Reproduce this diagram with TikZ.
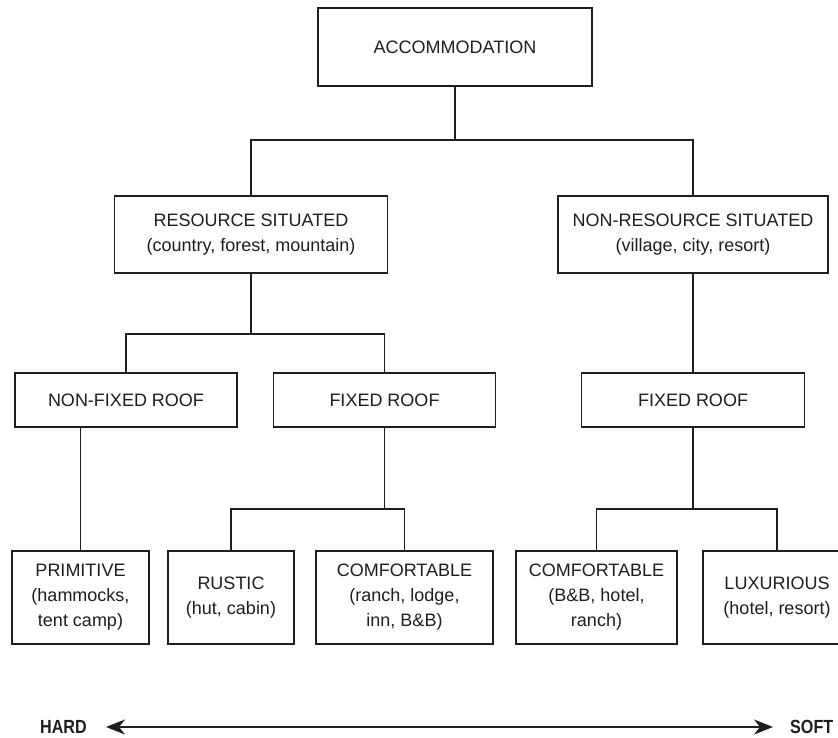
\documentclass[tikz,border=0pt]{standalone}
\usepackage{fontspec}
\setmainfont{Liberation Sans}
\usepackage{tikz}
\usetikzlibrary{arrows.meta,positioning,calc}
\definecolor{inkgray}{HTML}{1E1E1E}

\begin{document}
\begin{tikzpicture}[x=1pt,y=-1pt,
    catbox/.style={draw=inkgray,line width=1.6pt,inner sep=0pt,align=center,text=inkgray,
      font=\fontsize{18}{25}\selectfont},
    branch/.style={draw=inkgray,line width=1.3pt},
    scaleend/.style={font=\fontsize{19}{20}\selectfont\bfseries,text=inkgray,inner sep=0pt}]
    \useasboundingbox (0,0) rectangle (838,738);
    \clip (0,0) rectangle (838,738);
    % top level
    \node[catbox,minimum width=274pt,minimum height=78pt] (acc) at (455,47) {ACCOMMODATION};
    \node[catbox,minimum width=273pt,minimum height=77pt] (res) at (251,234.5) {RESOURCE SITUATED\\(country, forest, mountain)};
    \node[catbox,minimum width=270pt,minimum height=77pt] (nonres) at (693,234.5) {NON-RESOURCE SITUATED\\(village, city, resort)};
    \coordinate (accjoin) at (455,140);
    \draw[branch] (acc) -- (accjoin);
    \draw[branch] (accjoin) -| (res);
    \draw[branch] (accjoin) -| (nonres);
    % roof level
    \node[catbox,minimum width=222pt,minimum height=54pt] (nofix) at (126,400) {NON-FIXED ROOF};
    \node[catbox,minimum width=222pt,minimum height=54pt] (fixres) at (384.5,400) {FIXED ROOF};
    \node[catbox,minimum width=223pt,minimum height=54pt] (fixnon) at (693,400) {FIXED ROOF};
    \coordinate (resjoin) at (251,334);
    \draw[branch] (res) -- (resjoin);
    \draw[branch] (resjoin) -| (nofix);
    \draw[branch] (resjoin) -| (fixres);
    \draw[branch] (nonres) -- (fixnon);
    % bottom level
    \node[catbox,minimum width=137pt,minimum height=93pt] (prim) at (80.5,597.5) {PRIMITIVE\\(hammocks,\\tent camp)};
    \node[catbox,minimum width=126pt,minimum height=93pt] (rustic) at (231,597.5) {RUSTIC\\(hut, cabin)};
    \node[catbox,minimum width=177pt,minimum height=93pt] (comfres) at (404.5,597.5) {COMFORTABLE\\(ranch, lodge,\\inn, B\&B)};
    \node[catbox,minimum width=161pt,minimum height=93pt] (comfnon) at (596.5,597.5) {COMFORTABLE\\(B\&B, hotel,\\ranch)};
    \node[catbox,minimum width=148pt,minimum height=93pt] (lux) at (777,597.5) {LUXURIOUS\\(hotel, resort)};
    \draw[branch] (nofix.south -| prim.north) -- (prim);
    \coordinate (fixresjoin) at (384.5,509);
    \coordinate (fixnonjoin) at (693,509);
    \draw[branch] (fixres) -- (fixresjoin);
    \draw[branch] (fixresjoin) -| (rustic);
    \draw[branch] (fixresjoin) -| (comfres);
    \draw[branch] (fixnon) -- (fixnonjoin);
    \draw[branch] (fixnonjoin) -| (comfnon);
    \draw[branch] (fixnonjoin) -| (lux);
    % hard / soft scale
    \node[scaleend,anchor=east] (hard) at (87,727) {\scalebox{0.85}[1]{HARD}};
    \node[scaleend,anchor=west] (soft) at (790,727) {\scalebox{0.85}[1]{SOFT}};
    \draw[inkgray,line width=2pt,{Stealth[length=19pt,width=15pt,inset=6pt]}-{Stealth[length=19pt,width=15pt,inset=6pt]}]
      ([xshift=19pt]hard.east) -- ([xshift=-17pt]soft.west);
\end{tikzpicture}
\end{document}
